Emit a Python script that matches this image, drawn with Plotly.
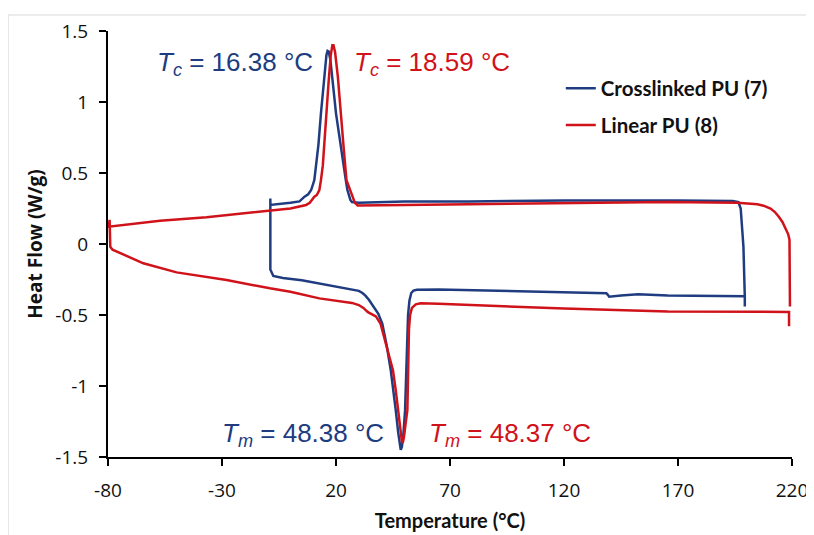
import plotly.graph_objects as go

# ---------------- data ----------------
series_names = ["Crosslinked PU (7)", "Linear PU (8)"]

# Crosslinked PU (7): heating from -9 to 200 °C, then cooling from 200 to -9 °C
xl_temp = [
    -8.8, -8.8, -7.5, -5.0, -3.3, 5.0, 12.7, 20.0, 27.3, 30.0, 31.6, 33.0, 34.5, 36.5, 38.5,
    40.3, 42.3, 44.0, 45.2, 46.2, 47.3, 48.0, 48.4, 48.9, 49.6, 50.3, 50.8, 51.2, 51.6, 52.2,
    53.0, 54.0, 55.5, 65.0, 90.0, 115.0, 138.6, 139.3, 139.8, 145.0, 152.5, 165.5, 185.0, 199.3,
    199.3, 199.3, 198.7, 197.5, 196.5, 194.0, 170.0, 120.0, 78.0, 50.0, 30.0, 27.0, 26.3, 25.8,
    25.0, 24.3, 23.0, 21.5, 20.0, 18.5, 17.5, 16.8, 16.3, 15.8, 15.0, 14.2, 13.4, 12.3, 11.3,
    10.5, 9.1, 7.8, 6.2, 4.0, 0.0, -4.0, -8.4, -8.8, -8.8,
]
xl_flow = [
    0.32, -0.18, -0.225, -0.237, -0.24, -0.255, -0.277, -0.30, -0.32, -0.33, -0.345, -0.365,
    -0.394, -0.44, -0.49, -0.56, -0.72, -0.887, -1.03, -1.17, -1.33, -1.43, -1.45, -1.43, -1.33,
    -1.17, -0.90, -0.65, -0.50, -0.40, -0.345, -0.328, -0.322, -0.32, -0.328, -0.338, -0.347,
    -0.36, -0.371, -0.362, -0.354, -0.362, -0.366, -0.368, -0.44, -0.37, -0.02, 0.25, 0.295,
    0.302, 0.306, 0.306, 0.30, 0.30, 0.29, 0.295, 0.31, 0.333, 0.38, 0.45, 0.60, 0.78, 0.92,
    1.15, 1.30, 1.355, 1.36, 1.33, 1.20, 1.05, 0.92, 0.70, 0.55, 0.45, 0.38, 0.35, 0.333, 0.30,
    0.29, 0.283, 0.277, 0.275, 0.32,
]

# Linear PU (8): cooling from 219 to -80 °C, then heating from -80 to 219 °C
lin_temp = [
    219.1, 219.1, 218.9, 218.3, 217.2, 215.8, 214.3, 212.5, 210.6, 207.5, 204.8, 200.0, 196.0,
    165.0, 120.0, 78.0, 50.0, 33.0,
    29.5, 28.3, 27.3, 26.0, 24.6, 23.5, 22.2, 20.8, 19.6, 18.9, 18.4, 17.7, 16.8, 15.9, 15.0,
    14.2, 13.4, 12.7, 11.6, 10.5, 8.5, 6.9, 0.0, -9.0, -20.0, -36.8, -57.2, -71.7, -79.7,
    -79.3, -79.2, -79.0, -78.0, -76.0, -70.0, -64.5, -49.9, -28.0, -9.0, 0.0, 12.7, 20.0,
    27.0, 30.0, 32.0, 34.0, 36.0, 37.5, 39.5, 41.5, 43.3, 45.0, 46.2, 47.3, 48.3, 48.9, 49.3,
    49.8, 50.5, 51.3, 51.7, 52.0, 52.5, 53.3, 55.0, 57.1, 65.0, 90.0, 120.0, 165.5, 200.0,
    218.7, 218.7,
]
lin_flow = [
    -0.44, -0.02, 0.03, 0.07, 0.11, 0.155, 0.19, 0.225, 0.25, 0.27, 0.28, 0.287, 0.29,
    0.296, 0.29, 0.28, 0.275, 0.27, 0.272,
    0.29, 0.333, 0.38, 0.45, 0.65, 0.92, 1.18, 1.35, 1.40, 1.40, 1.33, 1.15, 0.92, 0.70, 0.55,
    0.45, 0.38, 0.345, 0.333, 0.29, 0.275, 0.25, 0.235, 0.215, 0.188, 0.164, 0.139, 0.122,
    0.17, 0.05, -0.02, -0.04, -0.054, -0.10, -0.136, -0.20, -0.254, -0.312, -0.336, -0.383,
    -0.40, -0.415, -0.43, -0.45, -0.48, -0.50, -0.51, -0.56, -0.68, -0.80, -0.89, -1.03, -1.17,
    -1.32, -1.39, -1.40, -1.36, -1.27, -1.17, -0.85, -0.60, -0.50, -0.45, -0.425, -0.418,
    -0.42, -0.438, -0.455, -0.475, -0.478, -0.478, -0.58,
]

x_ticks = [-80, -30, 20, 70, 120, 170, 220]
x_tick_labels = ["-80", "-30", "20", "70", "120", "170", "220"]
y_ticks = [1.5, 1.0, 0.5, 0.0, -0.5, -1.0, -1.5]
y_tick_labels = ["1.5", "1", "0.5", "0", "-0.5", "-1", "-1.5"]

peak_labels = [
    "<i>T<sub>c</sub></i> = 16.38 °C",
    "<i>T<sub>c</sub></i> = 18.59 °C",
    "<i>T<sub>m</sub></i> = 48.38 °C",
    "<i>T<sub>m</sub></i> = 48.37 °C",
]

BLUE = "#203C80"
RED = "#D0121B"

fig = go.Figure()
fig.add_trace(go.Scatter(x=xl_temp, y=xl_flow, mode="lines", name=series_names[0],
                         line=dict(color=BLUE, width=2.5), legendgroup="a"))
fig.add_trace(go.Scatter(x=lin_temp, y=lin_flow, mode="lines", name=series_names[1],
                         line=dict(color=RED, width=2.5), legendgroup="b"))

ann_font = "Liberation Sans, Arial, sans-serif"
fig.add_annotation(x=-59.3, y=1.27, text=peak_labels[0], showarrow=False, xanchor="left",
                   yanchor="middle", font=dict(family=ann_font, size=26, color=BLUE))
fig.add_annotation(x=27.2, y=1.27, text=peak_labels[1], showarrow=False, xanchor="left",
                   yanchor="middle", font=dict(family=ann_font, size=26, color=RED))
fig.add_annotation(x=41.8, y=-1.34, text=peak_labels[2], showarrow=False, xanchor="right",
                   yanchor="middle", font=dict(family=ann_font, size=26, color=BLUE))
fig.add_annotation(x=60.0, y=-1.34, text=peak_labels[3], showarrow=False, xanchor="left",
                   yanchor="middle", font=dict(family=ann_font, size=26, color=RED))

# light grey outer frame of the chart area: only its top and left edges are in view
frame = dict(color="#D9D9D9", width=1)
fig.add_shape(type="line", xref="paper", yref="paper", x0=-0.146, x1=1.1, y0=1.0376,
              y1=1.0376, line=frame, layer="below")
fig.add_shape(type="line", xref="paper", yref="paper", x0=-0.146, x1=-0.146, y0=1.0376,
              y1=-0.3, line=frame, layer="below")

# the page body adds an 8 px offset, so the figure is 8 px smaller on each side
fig.update_layout(
    width=806, height=527,
    margin=dict(l=100, r=22, t=23, b=78),
    paper_bgcolor="white", plot_bgcolor="white",
    showlegend=True,
    legend=dict(x=0.662, y=0.912, xanchor="left", yanchor="top",
                font=dict(family="Lato, sans-serif", size=20.5, color="#111111", weight="bold"),
                bgcolor="rgba(0,0,0,0)", tracegroupgap=7, itemwidth=30),
    xaxis=dict(range=[-80, 220], tickvals=x_ticks, ticktext=x_tick_labels,
               showline=True, linecolor="black", linewidth=2, ticks="outside",
               ticklen=7, tickwidth=2, tickcolor="black", showgrid=False, zeroline=False,
               automargin=False,
               tickfont=dict(family="Open Sans, sans-serif", size=19, color="#111111"),
               ticklabelstandoff=8,
               title=dict(text="<b>Temperature (°C)</b>", standoff=12,
                          font=dict(family="Lato, sans-serif", size=20, color="#111111"))),
    yaxis=dict(range=[-1.5, 1.5], tickvals=y_ticks, ticktext=y_tick_labels,
               showline=True, linecolor="black", linewidth=2, ticks="outside",
               ticklen=7, tickwidth=2, tickcolor="black", showgrid=False, zeroline=False,
               automargin=False,
               tickfont=dict(family="Open Sans, sans-serif", size=19, color="#111111"),
               ticklabelstandoff=7,
               title=dict(text="<b>Heat Flow (W/g)</b>", standoff=8,
                          font=dict(family="Open Sans, sans-serif", size=19, color="#111111"))),
)

fig.write_html("out.html")
